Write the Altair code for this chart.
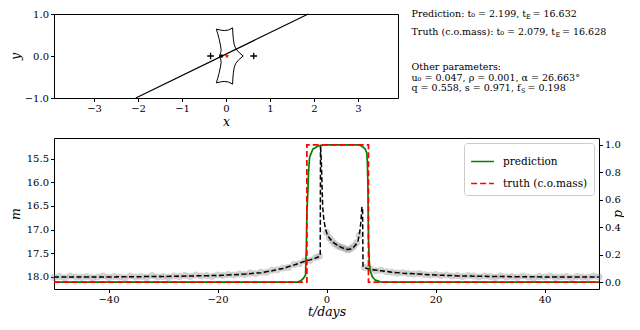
import altair as alt
import pandas as pd

# ---------------- top panel data (source plane) ----------------
caustic_x = [-0.15, -0.12, -0.11, -0.13, -0.16, -0.19, -0.22, -0.12, -0.03, 0.06, 0.15,
             0.155, 0.165, 0.185, 0.22, 0.28, 0.39,
             0.28, 0.22, 0.185, 0.165, 0.155, 0.15, 0.06, -0.03, -0.12, -0.22,
             -0.19, -0.16, -0.13, -0.11, -0.12, -0.15]
caustic_y = [0.0, 0.08, 0.15, 0.28, 0.42, 0.54, 0.64, 0.615, 0.605, 0.62, 0.67,
             0.55, 0.42, 0.28, 0.18, 0.10, 0.0,
             -0.10, -0.18, -0.28, -0.42, -0.55, -0.67, -0.62, -0.605, -0.615, -0.64,
             -0.54, -0.42, -0.28, -0.15, -0.08, 0.0]
traj_x = [-2.05, 1.87]
traj_y = [-1.0, 1.0]
lens_x = [-0.35, 0.63]
lens_y = [0.0, 0.0]
src_x = [-0.10]
src_y = [0.0]
com_x = [0.02]
com_y = [0.0]

# ---------------- bottom panel data (light curve) ----------------
model_t = [-50, -40, -30, -25, -20, -15, -12, -10, -8, -6, -5, -4, -3, -2, -1.15, -1.1,
           -0.95, -0.8, -0.7, -0.5, -0.2, 0.2, 1.1, 2.3, 3.0, 3.8, 4.5, 5.0, 5.5, 5.8,
           6.1, 6.3, 6.5, 6.62, 6.7, 7.4, 8, 10, 12, 14, 17, 20, 25, 30, 40, 50]
model_m = [18.00, 18.00, 17.99, 17.98, 17.97, 17.94, 17.91, 17.87, 17.82, 17.75, 17.71,
           17.67, 17.64, 17.60, 17.56, 15.21, 15.55, 16.15, 16.52, 16.78, 16.98, 17.13,
           17.26, 17.35, 17.39, 17.42, 17.41, 17.37, 17.30, 17.23, 17.05, 16.85, 16.52,
           16.58, 17.79, 17.82, 17.84, 17.87, 17.90, 17.92, 17.94, 17.96, 17.98, 17.99,
           18.00, 18.00]

obs_t = [-50, -49, -48, -47, -46, -45, -44, -43, -42, -41, -40, -39, -38, -37, -36, -35,
         -34, -33, -32, -31, -30, -29, -28, -27, -26, -25, -24, -23, -22, -21, -20, -19,
         -18, -17, -16, -15, -14, -13, -12, -11, -10, -9, -8, -7, -6, -5, -4, -3, -2,
         -1.3, 0, 0.5, 1, 1.5, 2, 2.5, 3, 3.5, 4, 4.5, 5, 5.5, 6, 7, 8, 9, 10, 11, 12,
         13, 14, 15, 16, 17, 18, 19, 20, 21, 22, 23, 24, 25, 26, 27, 28, 29, 30, 31, 32,
         33, 34, 35, 36, 37, 38, 39, 40, 41, 42, 43, 44, 45, 46, 47, 48, 49, 50]
obs_m = [18.01, 17.99, 18.02, 17.98, 18.00, 18.01, 17.99, 18.02, 18.00, 17.98, 18.01,
         17.99, 18.00, 18.02, 17.98, 18.00, 17.99, 18.01, 17.97, 18.00, 17.99, 18.01,
         17.98, 17.99, 17.97, 17.99, 17.96, 17.98, 17.97, 17.99, 17.96, 17.97, 17.95,
         17.96, 17.94, 17.95, 17.92, 17.93, 17.90, 17.90, 17.86, 17.85, 17.81, 17.80,
         17.74, 17.72, 17.66, 17.65, 17.59, 17.56, 17.06, 17.17, 17.24, 17.30, 17.34,
         17.37, 17.38, 17.41, 17.43, 17.40, 17.35, 17.28, 17.12, 17.80, 17.83, 17.87,
         17.86, 17.89, 17.90, 17.92, 17.91, 17.93, 17.94, 17.93, 17.95, 17.96, 17.95,
         17.97, 17.96, 17.98, 17.97, 17.99, 17.97, 17.98, 18.00, 17.98, 17.99, 18.01,
         17.98, 18.00, 17.99, 18.01, 17.98, 18.00, 18.02, 17.99, 18.00, 17.98, 18.01,
         18.00, 17.99, 18.02, 17.99, 18.00, 18.01, 17.98, 18.00]

pred_t = [-50, -5.5, -4.8, -4.3, -3.85, -3.7, -3.6, -3.4, -3.3, -3.1, -2.5, -1.6, -0.5,
          6.0, 6.5, 7.1, 7.4, 7.5, 7.6, 7.7, 7.85, 8.0, 8.4, 8.9, 10.1, 50]
pred_p = [0.0, 0.0, 0.008, 0.025, 0.05, 0.25, 0.5, 0.68, 0.8, 0.91, 0.97, 0.99, 1.0,
          1.0, 0.99, 0.97, 0.94, 0.87, 0.7, 0.32, 0.15, 0.086, 0.04, 0.016, 0.0, 0.0]
truth_t = [-50, -3.6, -3.6, 7.7, 7.7, 50]
truth_p = [0.0, 0.0, 1.0, 1.0, 0.0, 0.0]

series_names = ["prediction", "truth (c.o.mass)"]
series_colors = ["green", "red"]

SERIF = "DejaVu Serif"

# ---------------- top panel ----------------
xs = alt.Scale(domain=[-3.91, 3.91], nice=False, zero=False)
ys = alt.Scale(domain=[-1.0, 1.0], nice=False, zero=False)
xax = alt.Axis(values=[-3, -2, -1, 0, 1, 2, 3], format="d", title="x", titlePadding=2)
yax = alt.Axis(values=[-1.0, -0.5, 0.0, 0.5, 1.0], format=".1f", title="y",
               titlePadding=2, minExtent=30, maxExtent=30)

caustic_df = pd.DataFrame({"x": caustic_x, "y": caustic_y, "i": range(len(caustic_x))})
caustic = alt.Chart(caustic_df).mark_line(color="black", strokeWidth=1).encode(
    x=alt.X("x:Q", scale=xs, axis=xax), y=alt.Y("y:Q", scale=ys, axis=yax), order="i:Q")

traj = alt.Chart(pd.DataFrame({"x": traj_x, "y": traj_y})).mark_line(
    color="black", strokeWidth=1.2).encode(x="x:Q", y="y:Q")

lenses = alt.Chart(pd.DataFrame({"x": lens_x, "y": lens_y})).mark_point(
    shape="M-1,0L1,0M0,-1L0,1", size=45, stroke="black", strokeWidth=1.3,
    filled=False, opacity=1).encode(x="x:Q", y="y:Q")

src = alt.Chart(pd.DataFrame({"x": src_x, "y": src_y})).mark_circle(
    size=12, color="black", opacity=1).encode(x="x:Q", y="y:Q")

star = ("M0,-1L0.224,-0.309L0.951,-0.309L0.363,0.118L0.588,0.809L0,0.382"
        "L-0.588,0.809L-0.363,0.118L-0.951,-0.309L-0.224,-0.309Z")
com = alt.Chart(pd.DataFrame({"x": com_x, "y": com_y})).mark_point(
    shape=star, size=30, color="red", filled=True, opacity=1).encode(x="x:Q", y="y:Q")

FS = 9.5


def txt(s, x, y, size=FS):
    return alt.Chart(pd.DataFrame({"k": [0]})).mark_text(
        text=s, align="left", baseline="middle", font=SERIF, fontSize=size,
        color="black").encode(x=alt.value(x), y=alt.value(y))


X0 = 357.5
texts = [
    txt("Prediction: t₀ = 2.199, t", X0, 0),
    txt("E", X0 + 114.5, 3, size=6.5),
    txt("= 16.632", X0 + 121, 0),
    txt("Truth (c.o.mass): t₀ = 2.079, t", X0, 18),
    txt("E", X0 + 144, 21, size=6.5),
    txt("= 16.628", X0 + 150.5, 18),
    txt("Other parameters:", X0, 53),
    txt("u₀ = 0.047, ρ = 0.001, α = 26.663°", X0, 63.5),
    txt("q = 0.558, s = 0.971, f", X0, 74),
    txt("S", X0 + 109.5, 77, size=6.5),
    txt("= 0.198", X0 + 116, 74),
]

top = alt.layer(caustic, traj, lenses, src, com, *texts).properties(width=344, height=84)

# ---------------- bottom panel ----------------
xb = alt.X("t:Q", scale=alt.Scale(domain=[-50, 50], nice=False, zero=False),
           axis=alt.Axis(values=[-40, -20, 0, 20, 40], format="d", title="t/days",
                         titlePadding=1))
ym = alt.Y("m:Q", scale=alt.Scale(domain=[18.255, 15.065], nice=False, zero=False),
           axis=alt.Axis(values=[15.5, 16.0, 16.5, 17.0, 17.5, 18.0], format=".1f",
                         title="m", orient="left", titlePadding=2, minExtent=30,
                         maxExtent=30))
yp = alt.Y("p:Q", scale=alt.Scale(domain=[-0.05, 1.05], nice=False, zero=False),
           axis=alt.Axis(values=[0.0, 0.2, 0.4, 0.6, 0.8, 1.0], format=".1f",
                         title="p", orient="right", titleAngle=270, titlePadding=3,
                         minExtent=22, maxExtent=22))

obs = alt.Chart(pd.DataFrame({"t": obs_t, "m": obs_m})).mark_circle(
    size=50, color="#7a7a7a", opacity=0.33).encode(x=xb, y=ym)
model_df = pd.DataFrame({"t": model_t, "m": model_m, "i": range(len(model_t))})
model = alt.Chart(model_df).mark_line(
    color="black", strokeDash=[5, 2.5], strokeWidth=1.5).encode(x=xb, y=ym, order="i:Q")
left = alt.layer(obs, model)

prob_df = pd.concat([
    pd.DataFrame({"t": pred_t, "p": pred_p, "series": series_names[0],
                  "i": range(len(pred_t))}),
    pd.DataFrame({"t": truth_t, "p": truth_p, "series": series_names[1],
                  "i": range(len(truth_t))}),
])
leg = alt.Legend(title=None, orient="top-right", offset=5, fillColor="white",
                 strokeColor="#cccccc", cornerRadius=3, padding=6, symbolType="stroke",
                 symbolSize=520, symbolStrokeWidth=1.7, labelFont=SERIF, labelFontSize=10.5,
                 labelColor="black", rowPadding=4, labelOffset=8)
prob = alt.Chart(prob_df).mark_line(strokeWidth=1.7).encode(
    x=xb, y=yp,
    color=alt.Color("series:N", scale=alt.Scale(domain=series_names, range=series_colors),
                    legend=leg),
    strokeDash=alt.StrokeDash("series:N",
                              scale=alt.Scale(domain=series_names, range=[[1, 0], [6, 3]]),
                              legend=leg),
    order="i:Q")

bottom = alt.layer(left, prob).resolve_scale(y="independent").properties(width=545, height=151)

chart = alt.vconcat(top, bottom, spacing=40, bounds="flush").resolve_legend(
    color="independent", strokeDash="independent"
).resolve_scale(color="independent", strokeDash="independent").properties(
    padding={"left": 0, "top": 0, "right": 0, "bottom": 0}
).configure_view(stroke="black", strokeWidth=1).configure_axis(
    grid=False, domain=False, tickColor="black", tickSize=3.5, tickWidth=1,
    labelFont=SERIF, labelFontSize=10, labelColor="black", labelPadding=2, labelFlush=False,
    titleFont=SERIF, titleFontSize=12.5, titleFontStyle="italic", titleFontWeight="normal",
    titleColor="black")

chart.save("out.html", embed_options={"renderer": "svg", "actions": False})
